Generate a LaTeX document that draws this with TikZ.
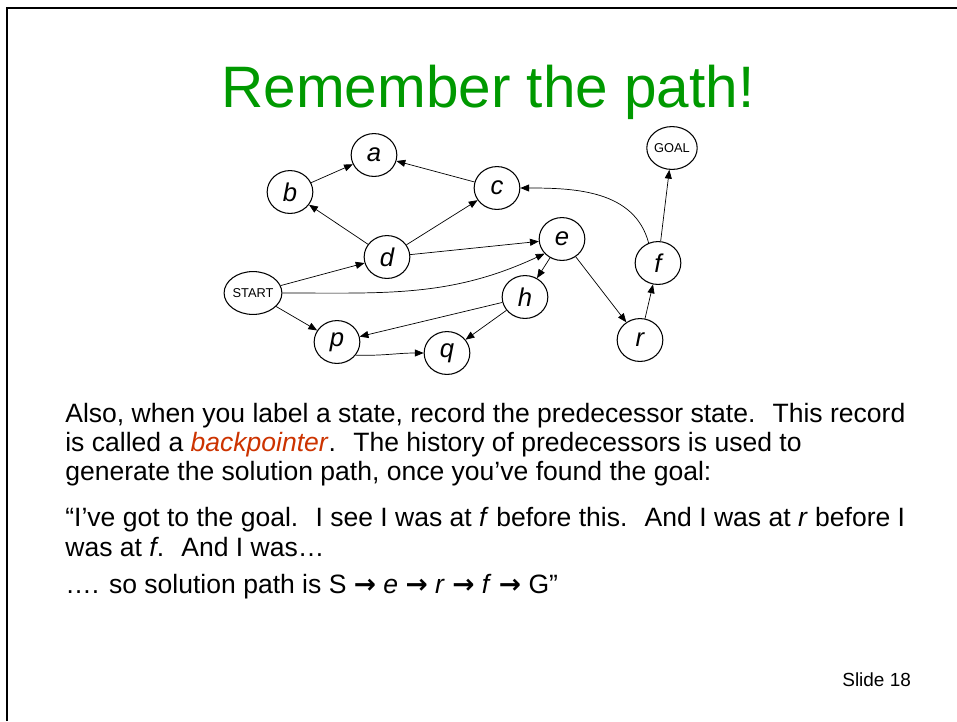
\documentclass[tikz,border=0pt]{standalone}
\usepackage{fontspec}
\setmainfont{Liberation Sans}
\newfontfamily\arrowfont{DejaVu Sans}
\usetikzlibrary{arrows.meta,shapes.geometric}
\definecolor{titlegreen}{RGB}{0,153,0}
\definecolor{backred}{RGB}{204,51,0}

\begin{document}
\begin{tikzpicture}[x=0.02cm,y=0.02cm,>={Triangle[length=5pt,width=4pt]},
    state/.style={ellipse,draw,line width=0.6pt,minimum width=26pt,minimum height=24.4pt,inner sep=0pt,
      font=\fontsize{14.6pt}{16pt}\selectfont\itshape},
    tag/.style={state,font=\fontsize{7.3pt}{8pt}\selectfont},
    line/.style={anchor=base west,inner sep=0pt,font=\fontsize{15.1pt}{17pt}\selectfont}]
    \useasboundingbox (0,0) rectangle (957,-721);
    \draw[line width=1.5pt] (7,-721) -- (7,-8) -- (957,-8);

    \node[anchor=base,inner sep=0pt,text=titlegreen,font=\fontsize{33.3pt}{36pt}\selectfont] (title) at (488,-107) {Remember the path!};

    \node[state] (a) at (374,-155) {a};
    \node[state] (b) at (290,-192) {b};
    \node[state] (c) at (497,-188) {c};
    \node[state] (d) at (387,-257) {d};
    \node[state] (e) at (562,-239) {e};
    \node[tag] (start) at (253,-293) {START};
    \node[state] (h) at (525,-297) {h};
    \node[state] (p) at (337,-342) {p};
    \node[state] (q) at (447,-353) {q};
    \node[state] (r) at (640,-340) {r};
    \node[state] (f) at (658,-263) {f};
    \node[tag] (goal) at (672,-148) {GOAL};

    \draw[->] (b) -- (a);
    \draw[->] (c) -- (a);
    \draw[->] (d) -- (b);
    \draw[->] (d) -- (c);
    \draw[->] (d) -- (e);
    \draw[->] (start) -- (d);
    \draw[->] (start.east) to[out=0,in=205] (e.220);
    \draw[->] (start) -- (p);
    \draw[->] (e) -- (h);
    \draw[->] (e) -- (r);
    \draw[->] (h) -- (p);
    \draw[->] (h) -- (q);
    \draw[->] (p.-35) to[out=-2,in=180] (q.west);
    \draw[->] (r) -- (f);
    \draw[->] (f) -- (goal);
    \draw[->] (f.115) to[out=105,in=0] (c.east);

    \node[line] (l1) at (65,-422) {Also, when you label a state, record the predecessor state.~ This record};
    \node[line] (l2) at (65,-451) {is called a \textcolor{backred}{\textit{backpointer}}.~ The history of predecessors is used to};
    \node[line] (l3) at (65,-480) {generate the solution path, once you’ve found the goal:};
    \node[line] (l4) at (65,-526) {“I’ve got to the goal.~ I see I was at \textit{f} before this.~ And I was at \textit{r} before I};
    \node[line] (l5) at (65,-556) {was at \textit{f}.~ And I was…};
    \node[line] (l6) at (65,-593) {…. so solution path is S {\arrowfont\bfseries →} \textit{e} {\arrowfont\bfseries →} \textit{r} {\arrowfont\bfseries →} \textit{f} {\arrowfont\bfseries →} G”};

    \node[anchor=base west,inner sep=0pt,font=\fontsize{10.8pt}{12pt}\selectfont] (slide) at (842,-686) {Slide 18};
\end{tikzpicture}
\end{document}
